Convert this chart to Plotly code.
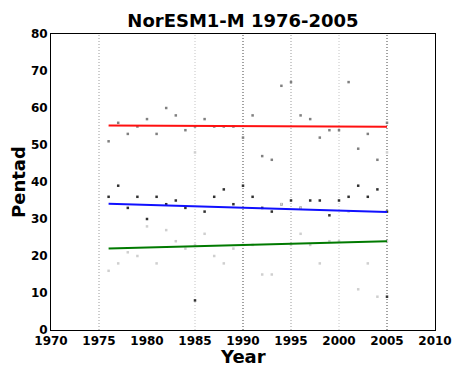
import plotly.graph_objects as go

years = list(range(1976, 2006))

# late (red-trend) series, medium gray points
late = [51, 56, 53, 55, 57, 53, 60, 58, 54, 55, 57, 55, 55, 55, 52,
        58, 47, 46, 66, 67, 58, 57, 52, 54, 54, 67, 49, 53, 46, 56]
# middle (blue-trend) series, dark points
mid = [36, 39, 33, 36, 30, 36, 34, 35, 33, 8, 32, 36, 38, 34, 39,
       36, 33, 32, 34, 35, 33, 35, 35, 31, 35, 36, 39, 36, 38, 32]
# early (green-trend) series, light points
early = [16, 18, 21, 20, 28, 18, 27, 24, 22, 23, 26, 20, 18, 22, 23,
         23, 15, 15, 34, 23, 26, 23, 18, 24, 24, 32, 11, 18, 9, 24]
# additional faint points
extra_years = [1985, 1996, 2005]
extra_vals = [48, 33, 48]
extra_dark_years = [2005]
extra_dark_vals = [9]

trend_years = [1976, 2005]
red_trend = [55.3, 54.9]
blue_trend = [34.1, 31.9]
green_trend = [22.0, 24.0]

vline_years = [1975, 1985, 1990, 1995, 2000, 2005]
vline_colors = ["#9a9a9a", "#c4c4c4", "#444444", "#9a9a9a", "#c4c4c4", "#444444"]

x_ticks = list(range(1970, 2011, 5))
y_ticks = list(range(0, 81, 10))

fig = go.Figure()

for yr, col in zip(vline_years, vline_colors):
    fig.add_shape(type="line", xref="x", yref="paper", x0=yr, x1=yr, y0=0, y1=1,
                  line=dict(color=col, width=1, dash="1px,2px"), layer="below")

def pts(x, y, color):
    fig.add_trace(go.Scatter(x=x, y=y, mode="markers",
                             marker=dict(size=2.5, color=color, symbol="square",
                                         line=dict(width=0)),
                             showlegend=False, hoverinfo="skip"))

pts(years, late, "#808080")
pts(years, mid, "#303030")
pts(years, early, "#cfcfcf")
pts(extra_years, extra_vals, "#cfcfcf")
pts(extra_dark_years, extra_dark_vals, "#303030")

for tr, col in [(red_trend, "#ff1010"), (blue_trend, "#1010ff"), (green_trend, "#007a00")]:
    fig.add_trace(go.Scatter(x=trend_years, y=tr, mode="lines",
                             line=dict(color=col, width=2),
                             showlegend=False, hoverinfo="skip"))

font_b = "DejaVu Sans"
fig.update_layout(
    width=454, height=365,
    margin=dict(l=51, r=19, t=34, b=35),
    paper_bgcolor="white", plot_bgcolor="white",
    title=dict(text="<b>NorESM1-M 1976-2005</b>", x=243 / 454, xanchor="center",
               y=1 - 21 / 365, yanchor="middle",
               font=dict(family=font_b, size=18, color="black")),
    xaxis=dict(range=[1970, 2010], tickvals=x_ticks, automargin=False,
               ticktext=[f"<b>{t}</b>" for t in x_ticks],
               showgrid=False, zeroline=False, showline=True, mirror=True,
               linecolor="black", linewidth=1, ticks="",
               tickfont=dict(family=font_b, size=12, color="black")),
    yaxis=dict(range=[0, 80], tickvals=y_ticks, automargin=False,
               ticktext=[f"<b>{t}</b>" for t in y_ticks],
               showgrid=False, zeroline=False, showline=True, mirror=True,
               linecolor="black", linewidth=1, ticks="",
               tickfont=dict(family=font_b, size=12, color="black")),
    annotations=[
        dict(text="<b>Year</b>", xref="paper", yref="paper", x=0.5, y=-26 / 296,
             xanchor="center", yanchor="middle", showarrow=False,
             font=dict(family=font_b, size=18, color="black")),
        dict(text="<b>Pentad</b>", xref="paper", yref="paper", x=-33 / 384, y=0.5,
             xanchor="center", yanchor="middle", showarrow=False, textangle=-90,
             font=dict(family=font_b, size=18, color="black")),
    ],
)

fig.write_html("out.html")
